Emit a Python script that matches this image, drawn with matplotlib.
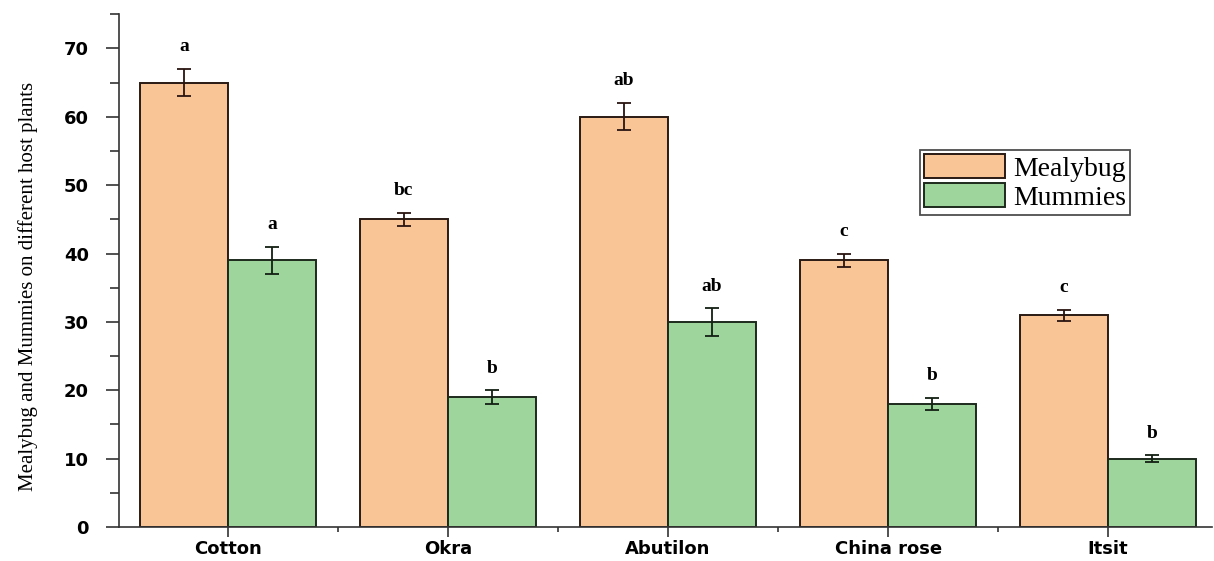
import numpy as np
import matplotlib
matplotlib.use("Agg")
import matplotlib.pyplot as plt
from matplotlib.ticker import MultipleLocator

# data
hosts = ["Cotton", "Okra", "Abutilon", "China rose", "Itsit"]
mealybug = [65, 45, 60, 39, 31]
mealybug_err = [2, 1, 2, 1, 0.8]
mummies = [39, 19, 30, 18, 10]
mummies_err = [2, 1, 2, 0.9, 0.5]
mealybug_letters = ["a", "bc", "ab", "c", "c"]
mummies_letters = ["a", "b", "ab", "b", "b"]

fig = plt.figure(figsize=(12.14, 5.61), dpi=100)
ax = fig.add_axes([0.098, 0.0606, 0.900, 0.914])

x = np.arange(len(hosts))
w = 0.4
c1 = "#F9C597"
c2 = "#9DD59C"

ax.bar(x - w, mealybug, w, align="edge", color=c1, edgecolor="#2a1a14", linewidth=1.4,
       label="Mealybug", zorder=2)
ax.bar(x, mummies, w, align="edge", color=c2, edgecolor="#1c2a1c", linewidth=1.4,
       label="Mummies", zorder=2)

ax.errorbar(x - w / 2, mealybug, yerr=mealybug_err, fmt="none", ecolor="#2a1410",
            elinewidth=1.3, capsize=5, capthick=1.3, zorder=3)
ax.errorbar(x + w / 2, mummies, yerr=mummies_err, fmt="none", ecolor="#142014",
            elinewidth=1.3, capsize=5, capthick=1.3, zorder=3)

# significance letters
for xi, v, e, t in zip(x - w / 2, mealybug, mealybug_err, mealybug_letters):
    ax.text(xi, v + e + 2, t, ha="center", va="bottom", fontsize=14,
            fontweight="bold", family="Liberation Serif")
for xi, v, e, t in zip(x + w / 2, mummies, mummies_err, mummies_letters):
    ax.text(xi, v + e + 2, t, ha="center", va="bottom", fontsize=14,
            fontweight="bold", family="Liberation Serif")

ax.set_xlim(-0.495, 4.47)
ax.set_ylim(0, 75)
ax.set_xticks(x)
ax.set_xticklabels(hosts, fontsize=13, fontweight="bold", family="DejaVu Sans")
ax.set_xticks(x[:-1] + 0.5, minor=True)
ax.yaxis.set_major_locator(MultipleLocator(10))
ax.yaxis.set_minor_locator(MultipleLocator(5))
ax.set_yticks(np.arange(0, 71, 10))
for lab in ax.get_yticklabels():
    lab.set_fontsize(13)
    lab.set_fontweight("bold")
    lab.set_family("DejaVu Sans")

ax.tick_params(axis="y", which="major", direction="out", length=9.5, width=1.2,
               color="#333333", pad=12)
ax.tick_params(axis="y", which="minor", direction="out", length=6.5, width=1.2, color="#333333")
ax.tick_params(axis="x", which="major", direction="out", length=7, width=1.2,
               color="#333333", pad=2)
ax.tick_params(axis="x", which="minor", direction="out", length=3.5, width=1.2, color="#333333")

ax.spines["top"].set_visible(False)
ax.spines["right"].set_visible(False)
ax.spines["left"].set_linewidth(1.2)
ax.spines["bottom"].set_linewidth(1.2)
ax.spines["left"].set_color("#333333")
ax.spines["bottom"].set_color("#333333")

ax.set_ylabel("Mealybug and Mummies on different host plants", fontsize=15,
              family="Liberation Serif")
ax.yaxis.set_label_coords(-0.074, 0.47)

leg = ax.legend(loc="upper left", bbox_to_anchor=(0.733, 0.735),
                prop={"family": "Liberation Serif", "size": 20},
                frameon=True, fancybox=False, edgecolor="#222222", handlelength=2.9,
                handleheight=0.95, handletextpad=0.3, labelspacing=0.05, borderpad=0.15,
                borderaxespad=0)
leg.get_frame().set_linewidth(1.3)

plt.savefig("out.png", dpi=100)
